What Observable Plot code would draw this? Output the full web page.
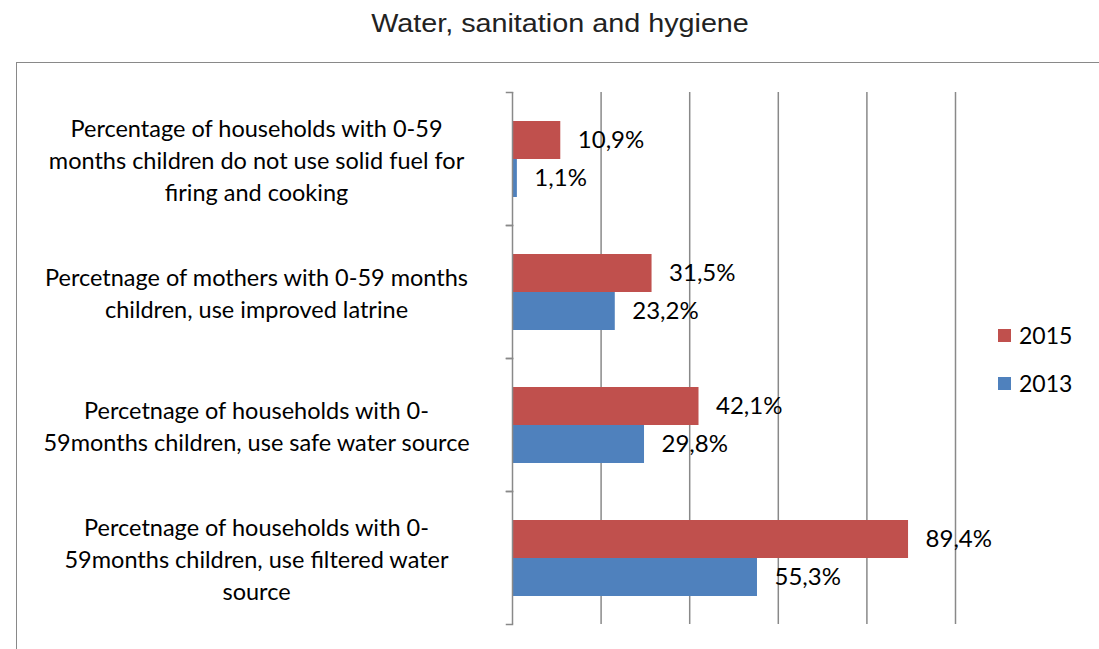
<!DOCTYPE html>
<html>
<head>
<meta charset="utf-8">
<script src="https://cdn.jsdelivr.net/npm/d3@7"></script>
<script src="https://cdn.jsdelivr.net/npm/@observablehq/plot@0.6"></script>
<style>
  html, body { margin: 0; padding: 0; background: #fff; }
  body { position: relative; width: 1099px; height: 649px; overflow: hidden; }
  #title { position: absolute; left: 16px; top: 6px; width: 1088px; text-align: center;
           font-family: "Liberation Sans", Arial, sans-serif; font-size: 25px; line-height: 34px; color: #222;
           transform: scaleX(1.15); transform-origin: 50% 50%; }
  #box { position: absolute; left: 16px; top: 62px; width: 1200px; height: 800px; border: 1px solid #898989; }
  #chart { position: absolute; left: 0; top: 50px; }
  #legend { position: absolute; left: 998px; top: 318px; font-family: Lato, sans-serif; font-size: 23px; color: #000; }
  #legend .item { display: flex; align-items: center; height: 34px; margin-bottom: 14px; }
  #legend .sw { width: 13px; height: 13px; margin-right: 8px; }
</style>
</head>
<body>
<div id="box"></div>
<div id="title">Water, sanitation and hygiene</div>
<div id="chart"></div>
<div id="legend"></div>
<script>
const categories = [
  "Percentage of households with 0-59\nmonths children do not use solid fuel for\nfiring and cooking",
  "Percetnage of mothers with 0-59 months\nchildren, use improved latrine",
  "Percetnage of households with 0-\n59months children, use safe water source",
  "Percetnage of households with 0-\n59months children, use filtered water\nsource"
];
const years = ["2015", "2013"];
const values2015 = [10.9, 31.5, 42.1, 89.4];
const values2013 = [1.1, 23.2, 29.8, 55.3];
const colors = ["#C0504D", "#4F81BD"];
const xDomain = [0, 100];
const gridTicks = [20, 40, 60, 80, 100];

const table = [];
categories.forEach((c, i) => {
  table.push({category: c, year: "2015", value: values2015[i]});
  table.push({category: c, year: "2013", value: values2013[i]});
});
const fmt = v => v.toFixed(1).replace(".", ",") + "%";

const W = 1099, H = 599, ML = 512, MR = 144, MT = 42, MB = 25;
const frameW = W - ML - MR;
const gray = "#898989";

const chart = Plot.plot({
  width: W, height: H,
  marginLeft: ML, marginRight: MR, marginTop: MT, marginBottom: MB,
  style: {background: "transparent", fontFamily: "Lato, sans-serif", fontSize: "24px", color: "#000", overflow: "visible"},
  x: {domain: xDomain, axis: null},
  y: {domain: years, paddingInner: 0, paddingOuter: 0.75, axis: null},
  fy: {domain: categories, padding: 0, axis: null},
  color: {domain: years, range: colors},
  marks: [
    Plot.ruleX(gridTicks, {stroke: gray, strokeWidth: 1.5}),
    Plot.barX(table, {x: "value", y: "year", fy: "category", fill: "year"}),
    Plot.ruleX([0], {stroke: gray, strokeWidth: 1.5}),
    Plot.frame({anchor: "top", insetLeft: -6, insetRight: frameW, stroke: gray, strokeWidth: 1.5}),
    Plot.frame({anchor: "bottom", insetLeft: -6, insetRight: frameW, stroke: gray, strokeWidth: 1.5}),
    Plot.text(table, {x: "value", y: "year", fy: "category", text: d => fmt(d.value),
      textAnchor: "start", dx: 17, fill: "#000", fontSize: 24}),
    Plot.text(categories, {fy: d => d, text: d => d, frameAnchor: "left", dx: -256,
      textAnchor: "middle", lineHeight: 32 / 23.5, fill: "#000", fontSize: 23.5})
  ]
});
document.getElementById("chart").appendChild(chart);

const legend = document.getElementById("legend");
years.forEach((y, i) => {
  const item = document.createElement("div");
  item.className = "item";
  const sw = document.createElement("span");
  sw.className = "sw";
  sw.style.background = colors[i];
  const t = document.createElement("span");
  t.textContent = y;
  item.appendChild(sw); item.appendChild(t);
  legend.appendChild(item);
});
</script>
</body>
</html>
